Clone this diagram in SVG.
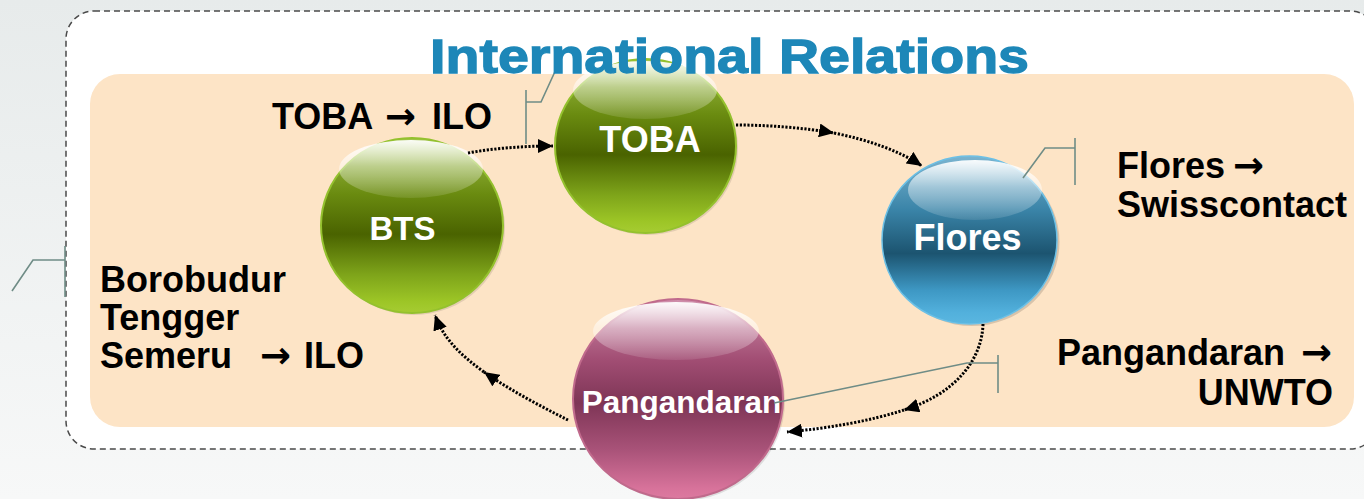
<svg xmlns="http://www.w3.org/2000/svg" width="1364" height="499" viewBox="0 0 1364 499">
  <style>
    .lbl { font-family: "Liberation Sans", Arial, sans-serif; font-weight: bold; font-size: 36px; fill: #000; }
    .arr { font-family: "DejaVu Sans", sans-serif; font-weight: bold; font-size: 37px; }
    .nl { font-family: "Liberation Sans", Arial, sans-serif; font-weight: bold; fill: #fff; text-anchor: middle; }
    .conn { fill: none; stroke: #000; stroke-width: 3; stroke-dasharray: 2.2 1.6; marker-end: url(#ah); }
    .call { fill: none; stroke: #6f8c86; stroke-width: 1.6; }
    .hl { fill: url(#gHl); }
  </style>
  <defs>
    <linearGradient id="gBg" x1="0" y1="0" x2="0" y2="1">
      <stop offset="0" stop-color="#e7ebeb"/>
      <stop offset="1" stop-color="#f7f8f8"/>
    </linearGradient>
    <linearGradient id="gGreen" x1="0" y1="0" x2="0" y2="1">
      <stop offset="0" stop-color="#a4c44e"/>
      <stop offset="0.32" stop-color="#6a8b10"/>
      <stop offset="0.55" stop-color="#4a6300"/>
      <stop offset="0.78" stop-color="#7ea41a"/>
      <stop offset="0.93" stop-color="#9cc526"/>
      <stop offset="1" stop-color="#a6cc32"/>
    </linearGradient>
    <linearGradient id="gBlue" x1="0" y1="0" x2="0" y2="1">
      <stop offset="0" stop-color="#7ab4d0"/>
      <stop offset="0.32" stop-color="#3a84a8"/>
      <stop offset="0.58" stop-color="#1c5470"/>
      <stop offset="0.8" stop-color="#3e98c4"/>
      <stop offset="0.93" stop-color="#52b0dc"/>
      <stop offset="1" stop-color="#5ab6e0"/>
    </linearGradient>
    <linearGradient id="gPink" x1="0" y1="0" x2="0" y2="1">
      <stop offset="0" stop-color="#d090ac"/>
      <stop offset="0.3" stop-color="#a24e74"/>
      <stop offset="0.52" stop-color="#7e3556"/>
      <stop offset="0.75" stop-color="#a85278"/>
      <stop offset="0.95" stop-color="#d8739b"/>
      <stop offset="1" stop-color="#dc7aa0"/>
    </linearGradient>
    <linearGradient id="gHl" x1="0" y1="0" x2="0" y2="1">
      <stop offset="0" stop-color="#ffffff" stop-opacity="0.95"/>
      <stop offset="0.45" stop-color="#ffffff" stop-opacity="0.45"/>
      <stop offset="1" stop-color="#ffffff" stop-opacity="0.1"/>
    </linearGradient>
    <marker id="ah" markerUnits="userSpaceOnUse" markerWidth="16" markerHeight="14" refX="15" refY="7" orient="auto" viewBox="0 0 16 14">
      <path d="M0,0 L15,7 L0,14 z" fill="#000"/>
    </marker>
  </defs>

  <g id="background">
    <rect x="0" y="0" width="1364" height="499" fill="url(#gBg)"/>
    <rect id="container" x="66" y="11" width="1312" height="438" rx="28" ry="28" fill="#ffffff" stroke="#4a4a4a" stroke-width="1.5" stroke-dasharray="6 4"/>
    <rect id="panel" x="90" y="74" width="1264" height="353" rx="30" ry="30" fill="#fde4c6"/>
  </g>

  <g id="node-bts">
    <ellipse cx="414" cy="227.5" rx="91" ry="87.5" fill="#000" opacity="0.1"/>
    <ellipse cx="412" cy="225.5" rx="91" ry="87.5" fill="url(#gGreen)" stroke="#94c12e" stroke-width="2"/>
    <ellipse class="hl" cx="411" cy="169" rx="72" ry="29"/>
    <text class="nl" x="402.5" y="240" font-size="33">BTS</text>
  </g>

  <g id="node-toba">
    <ellipse cx="647.5" cy="148" rx="90.5" ry="87" fill="#000" opacity="0.1"/>
    <ellipse cx="645.5" cy="146" rx="90.5" ry="87" fill="url(#gGreen)" stroke="#94c12e" stroke-width="2"/>
    <ellipse class="hl" cx="645" cy="90" rx="72" ry="29"/>
    <text class="nl" x="650" y="152" font-size="36">TOBA</text>
  </g>

  <g id="node-flores">
    <ellipse cx="972" cy="242" rx="87.5" ry="84" fill="#000" opacity="0.14"/>
    <ellipse cx="969.5" cy="240" rx="87.5" ry="84" fill="url(#gBlue)" stroke="#6cc0e6" stroke-width="1.5"/>
    <ellipse class="hl" cx="975" cy="190" rx="67" ry="30"/>
    <text class="nl" x="967.5" y="250" font-size="36">Flores</text>
  </g>

  <g id="node-pangandaran">
    <ellipse cx="680" cy="401" rx="105" ry="100" fill="#000" opacity="0.1"/>
    <ellipse cx="678" cy="399" rx="105" ry="100" fill="url(#gPink)" stroke="#c06a8c" stroke-width="2"/>
    <ellipse class="hl" cx="676" cy="331" rx="83" ry="29"/>
    <text class="nl" x="681.5" y="413" font-size="31.5">Pangandaran</text>
  </g>

  <g id="connectors">
    <path class="conn" d="M468,153 C495,148 525,146 553,146"/>
    <path class="conn" d="M736,125 C770,125 805,128 834,133"/>
    <path class="conn" d="M834,133 C868,140 898,150 922,166"/>
    <path class="conn" d="M983,324 C982,360 955,394 904,410"/>
    <path class="conn" d="M904,410 C870,421 830,428 787,432"/>
    <path class="conn" d="M568,420 C540,406 510,390 484,372"/>
    <path class="conn" d="M484,372 C462,356 444,340 435,315"/>
  </g>

  <g id="callouts">
    <polyline class="call" points="558,65 541,102 526,102"/>
    <line class="call" x1="526" y1="90" x2="526" y2="144"/>
    <polyline class="call" points="1023,178 1045,148 1075,148"/>
    <line class="call" x1="1075" y1="138" x2="1075" y2="185"/>
    <polyline class="call" points="774,403 967,363 998,363"/>
    <line class="call" x1="998" y1="355" x2="998" y2="393"/>
    <polyline class="call" points="12,291 33,260 65,260"/>
    <line class="call" x1="65" y1="246" x2="65" y2="297"/>
  </g>

  <g id="title">
    <text x="430" y="73" font-family="'Liberation Sans', Arial, sans-serif" font-weight="bold" font-size="49" fill="#1d87b8" stroke="#1d87b8" stroke-width="1.3" textLength="599" lengthAdjust="spacingAndGlyphs">International Relations</text>
  </g>

  <g id="labels">
    <text class="lbl" y="129"><tspan x="272">TOBA</tspan><tspan class="arr" x="385">→</tspan><tspan x="432">ILO</tspan></text>
    <text class="lbl" y="178"><tspan x="1117">Flores</tspan><tspan class="arr" x="1233">→</tspan></text>
    <text class="lbl" x="1117" y="217">Swisscontact</text>
    <text class="lbl" y="292" x="100">Borobudur</text>
    <text class="lbl" y="330" x="100">Tengger</text>
    <text class="lbl" y="368"><tspan x="100">Semeru</tspan><tspan class="arr" x="260">→</tspan><tspan x="304">ILO</tspan></text>
    <text class="lbl" y="365"><tspan x="1057">Pangandaran</tspan><tspan class="arr" x="1301">→</tspan></text>
    <text class="lbl" y="405" x="1333" text-anchor="end">UNWTO</text>
  </g>
</svg>
